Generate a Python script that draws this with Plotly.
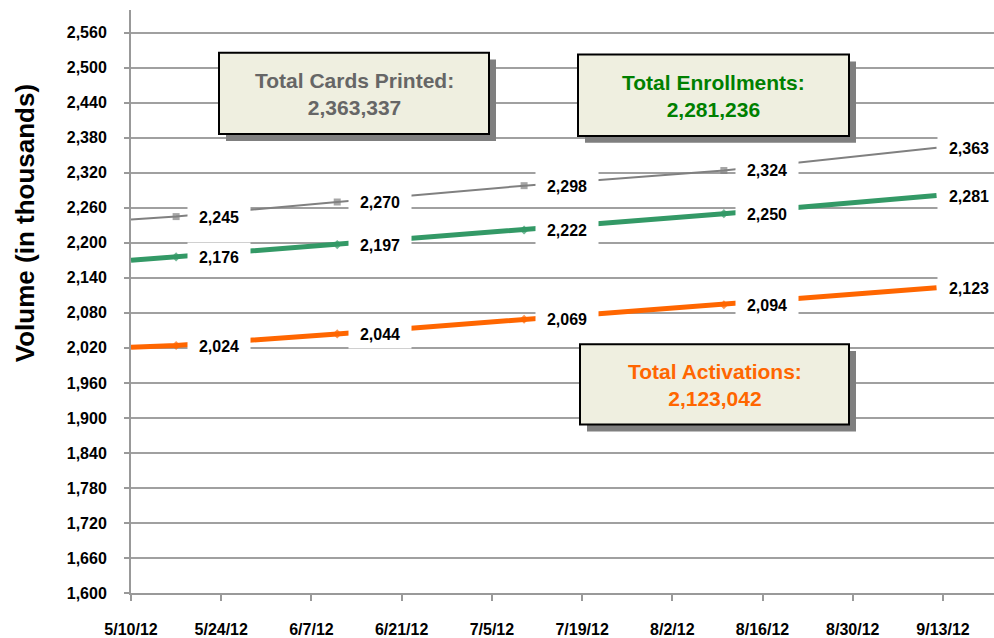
import plotly.graph_objects as go

# ---- data ----
dates = ["2012-05-10", "2012-05-17", "2012-06-11", "2012-07-10", "2012-08-10", "2012-09-12"]
cards_printed = [2240, 2245, 2270, 2298, 2324, 2363]
enrollments = [2170, 2176, 2197, 2222, 2250, 2281]
activations = [2021, 2024, 2044, 2069, 2094, 2123]

x_tick_vals = ["2012-05-10", "2012-05-24", "2012-06-07", "2012-06-21", "2012-07-05",
               "2012-07-19", "2012-08-02", "2012-08-16", "2012-08-30", "2012-09-13"]
x_tick_text = ["5/10/12", "5/24/12", "6/7/12", "6/21/12", "7/5/12",
               "7/19/12", "8/2/12", "8/16/12", "8/30/12", "9/13/12"]
y_tick_vals = [1600, 1660, 1720, 1780, 1840, 1900, 1960, 2020, 2080, 2140,
               2200, 2260, 2320, 2380, 2440, 2500, 2560]

totals = [
    ("Total Cards Printed:", "2,363,337"),
    ("Total Enrollments:", "2,281,236"),
    ("Total Activations:", "2,123,042"),
]

FONT = "Liberation Sans, Arial, sans-serif"
GRAY = "#808080"
GREEN = "#339966"
ORANGE = "#FF6600"

W, H = 994, 638
ML, MR, MT, MB = 131, 0, 10, 40
PW, PH = W - ML - MR, H - MT - MB


def px(x):
    return (x - ML) / PW


def py(y):
    return (H - MB - y) / PH


fig = go.Figure()

series = [
    (cards_printed, GRAY, 2, "square", 7),
    (enrollments, GREEN, 5, "diamond", 7),
    (activations, ORANGE, 5, "diamond", 7),
]
n = len(dates)
for vals, col, lw, sym, ms in series:
    sizes = [0] + [ms] * (n - 2) + [0]
    fig.add_trace(go.Scatter(
        x=dates, y=vals, mode="lines+markers",
        line=dict(color=col, width=lw),
        marker=dict(symbol=sym, size=sizes, color=col, line=dict(width=0)),
        showlegend=False, hoverinfo="skip", cliponaxis=False,
    ))

# data labels with white background
for vals, col, lw, sym, ms in series:
    for i in range(1, n):
        last = i == n - 1
        fig.add_annotation(
            x=dates[i], y=vals[i], xref="x", yref="y",
            text=f"{vals[i]:,}", showarrow=False,
            xanchor="left", yanchor="middle",
            xshift=0 if last else 11,
            width=60, height=26, bgcolor="white",
            borderpad=1,
            font=dict(family=FONT, size=16, color="black", weight="bold"),
        )

# summary boxes
boxes = [
    (219, 489, 53, 135, "#666666"),
    (578, 849, 55, 137, "#008000"),
    (580, 849, 347, 428, ORANGE),
]
for (x0, x1, y0, y1, tc), (t1, t2) in zip(boxes, totals):
    off = 7
    fig.add_shape(type="rect", xref="paper", yref="paper",
                  x0=px(x0 + off), x1=px(x1 + off), y0=py(y1 + off), y1=py(y0 + off),
                  fillcolor="#7F7F7F", line=dict(width=0), layer="above")
    fig.add_shape(type="rect", xref="paper", yref="paper",
                  x0=px(x0), x1=px(x1), y0=py(y1), y1=py(y0),
                  fillcolor="#EFEFE0", line=dict(color="black", width=2), layer="above")
    fig.add_annotation(
        x=px((x0 + x1) / 2), y=py((y0 + y1) / 2 + 1), xref="paper", yref="paper",
        text=f"{t1}<br>{t2}", showarrow=False, xanchor="center", yanchor="middle",
        font=dict(family=FONT, size=21, color=tc, weight="bold"), align="center",
    )

# y axis title
fig.add_annotation(
    x=px(25), y=py(225), xref="paper", yref="paper",
    text="Volume (in thousands)", textangle=-90, showarrow=False,
    xanchor="center", yanchor="middle",
    font=dict(family=FONT, size=26, color="black", weight="bold"),
)

fig.update_layout(
    width=W, height=H,
    margin=dict(l=ML, r=MR, t=MT, b=MB),
    paper_bgcolor="white", plot_bgcolor="white",
    font=dict(family=FONT, color="black"),
    xaxis=dict(
        type="date", range=["2012-05-10", "2012-09-20 22:00"],
        tickvals=x_tick_vals, ticktext=x_tick_text,
        showgrid=False, zeroline=False,
        showline=True, linecolor="#999999", linewidth=2,
        ticks="outside", ticklen=6, tickwidth=2, tickcolor="#999999",
        tickfont=dict(family=FONT, size=16, color="black", weight="bold"),
        ticklabelstandoff=15,
    ),
    yaxis=dict(
        range=[1600, 2599], tickvals=y_tick_vals, tickformat=",d",
        showgrid=True, gridcolor="#A0A0A0", gridwidth=2, zeroline=False,
        showline=True, linecolor="#999999", linewidth=2,
        ticks="outside", ticklen=5, tickwidth=2, tickcolor="#999999",
        tickfont=dict(family=FONT, size=16, color="black", weight="bold"),
        ticklabelstandoff=14,
    ),
)

fig.write_html(
    "out.html",
    config={"displayModeBar": False},
    post_script="document.body.style.margin='0';document.body.style.padding='0';"
                "document.body.style.overflow='hidden';",
)
